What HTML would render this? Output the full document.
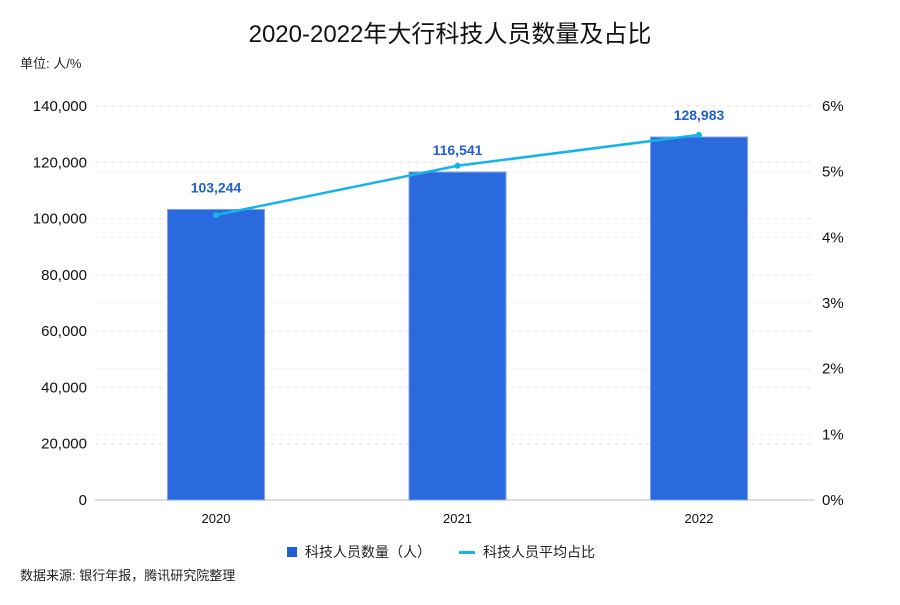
<!DOCTYPE html>
<html><head><meta charset="utf-8"><style>
body{margin:0;background:#fff;font-family:"Liberation Sans","Noto Sans CJK SC",sans-serif}
</style></head><body>
<svg width="900" height="600" xmlns="http://www.w3.org/2000/svg" font-family="Liberation Sans, Noto Sans CJK SC, sans-serif">
<text x="450" y="42" text-anchor="middle" font-size="24" fill="#111">2020-2022年大行科技人员数量及占比</text>
<text x="20" y="68" font-size="13" fill="#222">单位: 人/%</text>
<g id="grid"></g><g id="axes"></g><g id="bars"></g><g id="line"></g>
<g>
<rect x="287" y="547" width="10" height="10" fill="#1f5fd6"/>
<text x="305" y="557" font-size="14" fill="#222">科技人员数量（人）</text>
<rect x="459" y="551" width="16" height="3" fill="#14b4e8"/>
<text x="483" y="557" font-size="14" fill="#222">科技人员平均占比</text>
</g>
<text x="20" y="580" font-size="13" fill="#222">数据来源: 银行年报，腾讯研究院整理</text>
</svg>
<script>
const categories=["2020","2021","2022"];
const staff=[103244,116541,128983];
const ratio=[4.34,5.09,5.56];
const leftTicks=[0,20000,40000,60000,80000,100000,120000,140000];
const rightTicks=[0,1,2,3,4,5,6];
const NS="http://www.w3.org/2000/svg";
const x0=95,x1=815,yb=500,yt=106;
const yL=v=>yb-(v/140000)*(yb-yt);
const yR=v=>yb-(v/6)*(yb-yt);
const step=241.5;
const xc=i=>95.25+step*(i+0.5);
function mk(t,a,p){const e=document.createElementNS(NS,t);for(const k in a)e.setAttribute(k,a[k]);p.appendChild(e);return e;}
const grid=document.getElementById('grid'),axes=document.getElementById('axes'),bars=document.getElementById('bars'),line=document.getElementById('line');
leftTicks.forEach(v=>{const y=yL(v);
 if(v>0){const g=mk('line',{x1:x0,x2:x1,y1:y,y2:y,stroke:'#e6e6e6','stroke-dasharray':'4,4'},grid);
 }
 const t=mk('text',{x:87,y:y+5,'text-anchor':'end','font-size':15,fill:'#111'},axes);t.textContent=v.toLocaleString('en-US');
 });
rightTicks.forEach(v=>{const y=yR(v);
 if(v>0&&v<6){const g=mk('line',{x1:x0,x2:x1,y1:y,y2:y,stroke:'#eeeeee','stroke-dasharray':'4,4'},grid);
 }
 const t=mk('text',{x:822,y:y+5,'font-size':15,fill:'#111'},axes);t.textContent=v+'%';
 });
const ax=mk('line',{x1:x0,x2:x1,y1:yb,y2:yb,stroke:'#bbb'},axes);

categories.forEach((c,i)=>{
 const t=mk('text',{x:xc(i),y:523,'text-anchor':'middle','font-size':13,fill:'#111'},axes);t.textContent=c;
 
 const y=yL(staff[i]);
 const b=mk('rect',{x:xc(i)-48.5,y:y,width:97,height:yb-y,fill:'#2a6ade',stroke:'#7fa3ea','stroke-width':1},bars);
 
 const l=mk('text',{x:xc(i),y:y-17,'text-anchor':'middle','font-size':14,'font-weight':'bold',fill:'#1f5fd6'},bars);l.textContent=staff[i].toLocaleString('en-US');
 
});
const pl=mk('polyline',{points:ratio.map((v,i)=>xc(i)+','+yR(v)).join(' '),fill:'none',stroke:'#14b4e8','stroke-width':2.5},line);

ratio.forEach((v,i)=>{const p=mk('circle',{cx:xc(i),cy:yR(v),r:3,fill:'#14b4e8'},line);
 });
</script>
</body></html>
